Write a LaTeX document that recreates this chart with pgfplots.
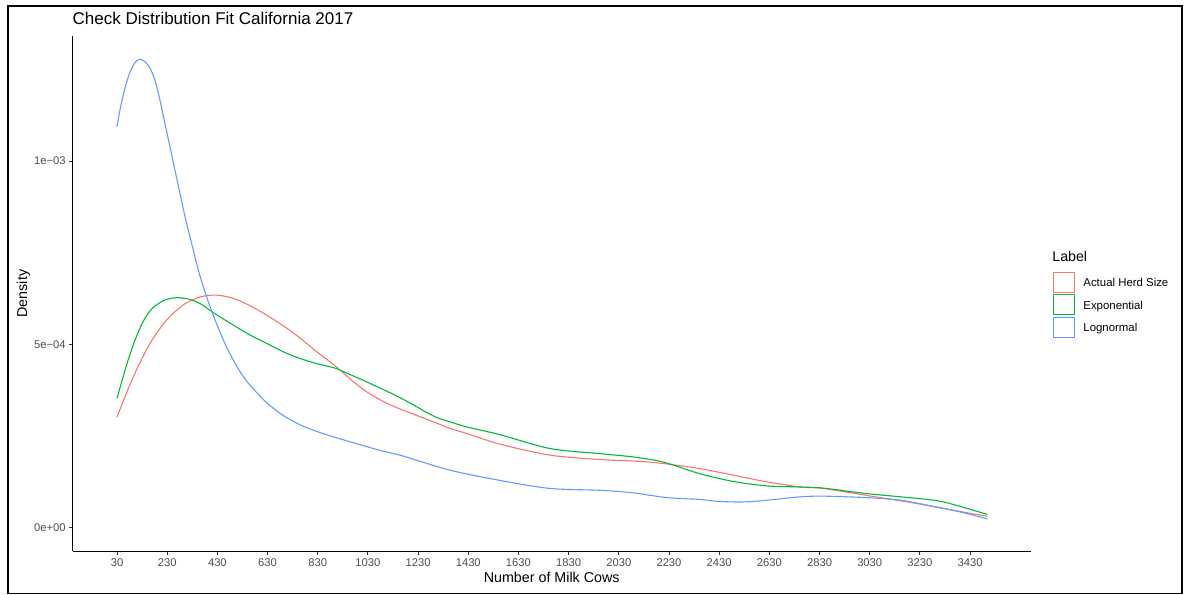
\documentclass[border=0pt]{standalone}
\usepackage{fontspec}
\setmainfont{Liberation Sans}
\usepackage{pgfplots}
\pgfplotsset{compat=1.18}
\usepackage{pgfplotstable}

\definecolor{herd}{HTML}{F8766D}
\definecolor{expo}{HTML}{00BA38}
\definecolor{lnorm}{HTML}{619CFF}
\definecolor{ticktext}{HTML}{4D4D4D}
\definecolor{tickline}{HTML}{333333}

% density estimates (x = number of milk cows, y = density)
\pgfplotstableread{
x y
30 3.01e-4
95 4.11e-4
161.5 5.02e-4
228 5.66e-4
294 6.07e-4
361 6.29e-4
427 6.34e-4
494 6.25e-4
560 6.05e-4
627 5.79e-4
693 5.50e-4
759 5.17e-4
825 4.80e-4
892 4.45e-4
919 4.29e-4
975 3.96e-4
1025 3.70e-4
1090 3.44e-4
1158 3.23e-4
1291 2.88e-4
1357 2.70e-4
1424 2.56e-4
1556 2.27e-4
1756 1.97e-4
1955 1.85e-4
2154 1.78e-4
2354 1.60e-4
2553 1.33e-4
2619 1.24e-4
2752 1.10e-4
2845 1.06e-4
3018 0.87e-4
3217 0.65e-4
3350 0.48e-4
3499 0.30e-4
}\herdtable

\pgfplotstableread{
x y
30 3.52e-4
69 4.45e-4
100 5.08e-4
130 5.56e-4
165 5.94e-4
215 6.19e-4
268 6.27e-4
321 6.22e-4
361 6.11e-4
414 5.86e-4
494 5.52e-4
560 5.25e-4
627 5.02e-4
693 4.79e-4
759 4.61e-4
825 4.47e-4
892 4.36e-4
919 4.29e-4
1025 3.97e-4
1158 3.54e-4
1291 3.04e-4
1357 2.88e-4
1424 2.74e-4
1556 2.53e-4
1756 2.15e-4
1955 2.01e-4
2088 1.92e-4
2207 1.78e-4
2354 1.46e-4
2487 1.25e-4
2620 1.13e-4
2752 1.10e-4
2845 1.07e-4
3018 0.92e-4
3284 0.74e-4
3390 0.57e-4
3499 0.35e-4
}\expotable

\pgfplotstableread{
x y
30 10.94e-4
42 11.40e-4
62 12.00e-4
82 12.43e-4
102 12.69e-4
122 12.78e-4
142 12.71e-4
162 12.53e-4
181 12.21e-4
201 11.67e-4
221 11.03e-4
241 10.39e-4
261 9.75e-4
281 9.12e-4
301 8.48e-4
321 7.93e-4
358 6.93e-4
401 6.02e-4
454 5.11e-4
494 4.56e-4
527 4.18e-4
560 3.88e-4
627 3.40e-4
693 3.05e-4
759 2.80e-4
825 2.62e-4
892 2.47e-4
1078 2.10e-4
1158 1.97e-4
1357 1.56e-4
1556 1.28e-4
1756 1.06e-4
1955 1.01e-4
2087 0.94e-4
2221 0.81e-4
2354 0.76e-4
2420 0.71e-4
2513 0.69e-4
2593 0.72e-4
2752 0.83e-4
2845 0.85e-4
3018 0.81e-4
3151 0.74e-4
3284 0.57e-4
3390 0.42e-4
3499 0.23e-4
}\lnormtable

\begin{document}
\begin{tikzpicture}[x=1pt,y=1pt]
\path[use as bounding box] (0,0) rectangle (1185,594);
\draw[line width=1.4pt] (8,0.8) rectangle (1182,588);

\begin{axis}[
  at={(72.7pt,42.7pt)}, anchor=south west,
  scale only axis, width=958pt, height=515.3pt,
  xmin=-146.6, xmax=3671.7,
  ymin=-0.656e-4, ymax=13.415e-4,
  axis lines=left,
  axis line style={-, line width=0.9pt, black},
  tick align=outside,
  major tick length=3.5pt,
  tick style={tickline, line width=0.9pt},
  xtick={30,230,430,630,830,1030,1230,1430,1630,1830,2030,2230,2430,2630,2830,3030,3230,3430},
  xticklabels={30,230,430,630,830,1030,1230,1430,1630,1830,2030,2230,2430,2630,2830,3030,3230,3430},
  ytick={0,5e-4,1e-3},
  yticklabels={0e+00,5e−04,1e−03},
  scaled y ticks=false,
  ticklabel style={font=\fontsize{11.2}{13}\selectfont, text=ticktext},
  xticklabel style={anchor=base, inner sep=0pt, yshift=-12pt},
  yticklabel style={anchor=east, inner sep=0pt, xshift=-3.4pt},
  legend style={at={(axis description cs:1.0230,0.5426)}, anchor=north west,
    draw=none, fill=none, inner sep=0pt, outer sep=0pt,
    row sep=1.8pt, column sep=8.7pt,
    font=\fontsize{11.4}{13}\selectfont,
    nodes={inner sep=0pt, text height=8.2pt, text depth=0pt}},
  legend cell align=left,
  legend image code/.code={\draw[#1, line width=1pt, fill=white] (0pt,-10pt) rectangle (21pt,10pt);},
]
\addplot[herd, line width=1.1pt, smooth] table {\herdtable};
\addlegendentry{Actual Herd Size}
\addplot[expo, line width=1.1pt, smooth] table {\expotable};
\addlegendentry{Exponential}
\addplot[lnorm, line width=1.1pt, smooth] table {\lnormtable};
\addlegendentry{Lognormal}
\end{axis}

\node[anchor=base west, font=\fontsize{17}{20}\selectfont, inner sep=0pt] at (72.5,569) {Check Distribution Fit California 2017};
\node[anchor=base, font=\fontsize{14.3}{17}\selectfont, inner sep=0pt] at (551.7,11.3) {Number of Milk Cows};
\node[rotate=90, anchor=base, font=\fontsize{14.3}{17}\selectfont, inner sep=0pt] at (27,300.4) {Density};
\node[anchor=base west, font=\fontsize{14.2}{17}\selectfont, inner sep=0pt] at (1052.2,332.3) {Label};
\end{tikzpicture}
\end{document}
